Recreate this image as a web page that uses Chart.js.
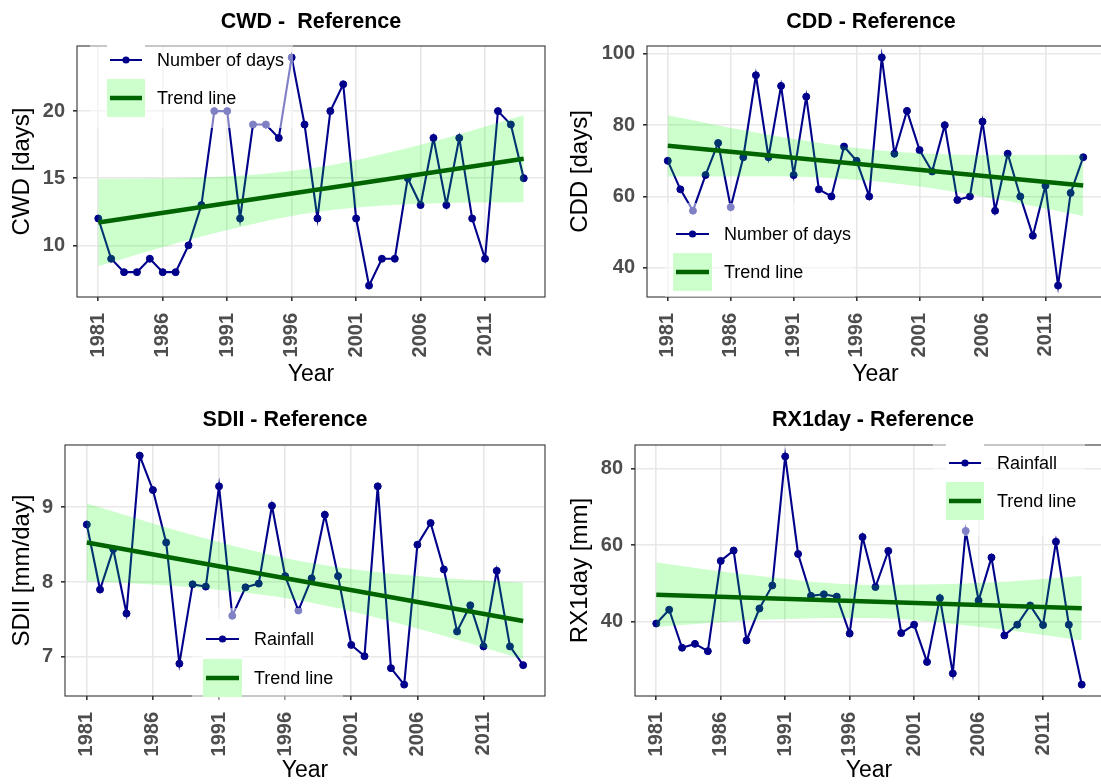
<!DOCTYPE html>
<html>
<head>
<meta charset="utf-8">
<script src="https://cdn.jsdelivr.net/npm/chart.js@4.4.1/dist/chart.umd.min.js"></script>
<style>
  html, body { margin: 0; padding: 0; background: #ffffff; overflow: hidden; width: 1101px; height: 784px; }
  canvas { position: absolute; }
</style>
</head>
<body>
<canvas id="cwd"></canvas>
<canvas id="cdd"></canvas>
<canvas id="sdii"></canvas>
<canvas id="rx1day"></canvas>
<script>
// ---- data -------------------------------------------------------------
const years = [1981,1982,1983,1984,1985,1986,1987,1988,1989,1990,
               1991,1992,1993,1994,1995,1996,1997,1998,1999,2000,
               2001,2002,2003,2004,2005,2006,2007,2008,2009,2010,
               2011,2012,2013,2014];
const yearTicks = [1981, 1986, 1991, 1996, 2001, 2006, 2011];

// consecutive wet days
const cwdDays = [12,9,8,8,9,8,8,10,13,20, 20,12,19,19,18,24,19,12,20,22,
                 12,7,9,9,15,13,18,13,18,12, 9,20,19,15];
// consecutive dry days
const cddDays = [70,62,56,66,75,57,71,94,71,91, 66,88,62,60,74,70,60,99,72,84,
                 73,67,80,59,60,81,56,72,60,49, 63,35,61,71];
// simple daily intensity index (mm/day)
const sdiiRain = [8.77,7.90,8.44,7.58,9.69,9.23,8.53,6.91,7.97,7.94,
                  9.28,7.55,7.93,7.98,9.02,8.08,7.62,8.05,8.90,8.08,
                  7.16,7.01,9.28,6.85,6.63,8.50,8.79,8.17,7.34,7.69,
                  7.14,8.15,7.14,6.89];
// maximum 1-day rainfall (mm)
const rx1dayRain = [39.6,43.2,33.3,34.3,32.4,55.9,58.6,35.2,43.5,49.5,
                    83.1,57.7,46.8,47.2,46.6,37.0,62.1,49.1,58.5,37.1,
                    39.3,29.6,46.2,26.6,63.7,45.6,56.8,36.5,39.3,44.3,
                    39.2,60.9,39.3,23.7];

// linear trends (end points) and their confidence ribbons
const trendYears = [1981, 2014];
const cwdTrend    = [11.7, 16.45];
const cddTrend    = [74.2, 63.1];
const sdiiTrend   = [8.53, 7.48];
const rx1dayTrend = [47.1, 43.6];

const bandYears = [1981, 1989, 1997.5, 2006, 2014];
const cwdBandLow     = [8.45, 10.65, 12.42, 13.10, 13.20];
const cwdBandHigh    = [14.95, 15.05, 15.74, 17.50, 19.70];
const cddBandLow     = [65.6, 65.7, 64.25, 60.0, 54.5];
const cddBandHigh    = [82.8, 77.3, 73.05, 71.6, 71.7];
const sdiiBandLow    = [8.01, 7.93, 7.74, 7.38, 6.97];
const sdiiBandHigh   = [9.05, 8.63, 8.27, 8.08, 7.99];
const rx1dayBandLow  = [38.7, 40.55, 41.05, 38.75, 35.2];
const rx1dayBandHigh = [55.5, 51.95, 49.65, 50.15, 52.0];

// value-axis ticks and limits
const cwdTicks = [10, 15, 20],        cwdLimits = [6.15, 24.85];
const cddTicks = [40, 60, 80, 100],   cddLimits = [31.8, 102.2];
const sdiiTicks = [7, 8, 9],          sdiiLimits = [6.4775, 9.8325];
const rx1dayTicks = [40, 60, 80],     rx1dayLimits = [20.73, 86.07];
const yearLimits = [1979.35, 2015.65];

// ---- styling ----------------------------------------------------------
const FONT = '"Liberation Sans", Arial, Helvetica, sans-serif';
Chart.defaults.font.family = FONT;
const NAVY = '#00008B';
const DARKGREEN = '#006400';
const RIBBON = 'rgba(0,255,0,0.2)';
const GRID = '#E8E8E8';
const TICKTXT = '#4D4D4D';

const panels = [
  { id: 'cwd', left: 0, top: 0, width: 550, height: 392,
    title: 'CWD -  Reference', titleX: 311, titleY: 22,
    yTitle: 'CWD [days]', values: cwdDays, trend: cwdTrend,
    low: cwdBandLow, high: cwdBandHigh, ticks: cwdTicks, limits: cwdLimits,
    area: { left: 77, top: 46, right: 545, bottom: 297 },
    yTitlePad: 8, xTitlePad: 4,
    legend: { box: [90, 38, 203, 90], keyX: 107, keyW: 38, textX: 157,
              rows: [{ cy: 60, label: 'Number of days', kind: 'series' },
                     { cy: 98, label: 'Trend line', kind: 'trend' }] } },
  { id: 'cdd', left: 550, top: 0, width: 560, height: 392,
    title: 'CDD - Reference', titleX: 871, titleY: 22,
    yTitle: 'CDD [days]', values: cddDays, trend: cddTrend,
    low: cddBandLow, high: cddBandHigh, ticks: cddTicks, limits: cddLimits,
    area: { left: 647, top: 46, right: 1104, bottom: 297 },
    yTitlePad: 16, xTitlePad: 4,
    legend: { box: [665, 203, 190, 94], keyX: 673, keyW: 39, textX: 724,
              rows: [{ cy: 234, label: 'Number of days', kind: 'series' },
                     { cy: 272, label: 'Trend line', kind: 'trend' }] } },
  { id: 'sdii', left: 0, top: 392, width: 550, height: 392,
    title: 'SDII - Reference', titleX: 285, titleY: 420,
    yTitle: 'SDII [mm/day]', values: sdiiRain, trend: sdiiTrend,
    low: sdiiBandLow, high: sdiiBandHigh, ticks: sdiiTicks, limits: sdiiLimits,
    area: { left: 65, top: 445, right: 545, bottom: 696 },
    yTitlePad: 8, xTitlePad: 0,
    legend: { box: [192, 608, 151, 94], keyX: 203, keyW: 39, textX: 254,
              rows: [{ cy: 639, label: 'Rainfall', kind: 'series' },
                     { cy: 678, label: 'Trend line', kind: 'trend' }] } },
  { id: 'rx1day', left: 550, top: 392, width: 560, height: 392,
    title: 'RX1day - Reference', titleX: 873, titleY: 420,
    yTitle: 'RX1day [mm]', values: rx1dayRain, trend: rx1dayTrend,
    low: rx1dayBandLow, high: rx1dayBandHigh, ticks: rx1dayTicks, limits: rx1dayLimits,
    area: { left: 635, top: 445, right: 1103, bottom: 696 },
    yTitlePad: 16, xTitlePad: 0,
    legend: { box: [933, 436, 152, 100], keyX: 946, keyW: 38, textX: 997,
              rows: [{ cy: 463, label: 'Rainfall', kind: 'series' },
                     { cy: 501, label: 'Trend line', kind: 'trend' }] } }
];

// panel frame, title and inside legend
const decor = {
  id: 'decor',
  afterDatasetsDraw(chart, args, p) {
    const { ctx, chartArea: a } = chart;
    ctx.save();
    ctx.strokeStyle = '#333333';
    ctx.lineWidth = 1.1;
    ctx.strokeRect(a.left, a.top, a.right - a.left, a.bottom - a.top);
    ctx.restore();
  },
  afterDraw(chart, args, p) {
    const ctx = chart.ctx;
    const ox = p.left, oy = p.top;
    ctx.save();
    // title
    ctx.fillStyle = '#000000';
    ctx.font = 'bold 21.5px ' + FONT;
    ctx.textAlign = 'center';
    ctx.textBaseline = 'middle';
    ctx.fillText(p.title, p.titleX - ox, p.titleY - oy);

    // legend
    const L = p.legend;
    ctx.fillStyle = 'rgba(255,255,255,0.5)';
    ctx.fillRect(L.box[0] - ox, L.box[1] - oy, L.box[2], L.box[3]);
    const kh = 38;
    L.rows.forEach(r => {
      const kx = L.keyX - ox, ky = r.cy - oy - kh / 2;
      ctx.fillStyle = '#ffffff';
      ctx.fillRect(kx, ky, L.keyW, kh);
      if (r.kind === 'series') {
        ctx.strokeStyle = NAVY; ctx.lineWidth = 2;
        ctx.beginPath();
        ctx.moveTo(kx + 3, r.cy - oy); ctx.lineTo(kx + L.keyW - 3, r.cy - oy);
        ctx.stroke();
        ctx.fillStyle = NAVY;
        ctx.beginPath();
        ctx.arc(kx + L.keyW / 2, r.cy - oy, 3.6, 0, Math.PI * 2);
        ctx.fill();
      } else {
        ctx.fillStyle = RIBBON;
        ctx.fillRect(kx, ky, L.keyW, kh);
        ctx.strokeStyle = DARKGREEN; ctx.lineWidth = 4.5;
        ctx.beginPath();
        ctx.moveTo(kx + 3, r.cy - oy); ctx.lineTo(kx + L.keyW - 3, r.cy - oy);
        ctx.stroke();
      }
      ctx.fillStyle = '#000000';
      ctx.font = '18px ' + FONT;
      ctx.textAlign = 'left';
      ctx.textBaseline = 'middle';
      ctx.fillText(r.label, L.textX - ox, r.cy - oy + 1);
    });
    ctx.restore();
  }
};

panels.forEach(p => {
  const cv = document.getElementById(p.id);
  cv.width = p.width; cv.height = p.height;
  cv.style.left = p.left + 'px'; cv.style.top = p.top + 'px';

  const pts = (xs, ys) => xs.map((x, i) => ({ x: x, y: ys[i] }));
  const yAxisW = p.area.left - p.left;
  const xAxisH = p.top + p.height - p.area.bottom;

  new Chart(cv, {
    type: 'line',
    data: {
      datasets: [
        { label: 'Trend line', data: pts(trendYears, p.trend),
          borderColor: DARKGREEN, borderWidth: 4.5, pointRadius: 0, fill: false },
        { label: 'upper', data: pts(bandYears, p.high),
          borderColor: 'rgba(0,0,0,0)', borderWidth: 0, pointRadius: 0,
          cubicInterpolationMode: 'monotone', fill: '+1', backgroundColor: RIBBON },
        { label: 'lower', data: pts(bandYears, p.low),
          borderColor: 'rgba(0,0,0,0)', borderWidth: 0, pointRadius: 0,
          cubicInterpolationMode: 'monotone', fill: false },
        { label: 'values', data: pts(years, p.values),
          borderColor: NAVY, borderWidth: 2.1, fill: false,
          pointRadius: 3.5, pointBackgroundColor: NAVY, pointBorderColor: NAVY,
          pointBorderWidth: 1 }
      ]
    },
    options: {
      responsive: false,
      animation: false,
      events: [],
      layout: { padding: { left: 0, bottom: 0,
                           top: p.area.top - p.top,
                           right: p.left + p.width - p.area.right } },
      plugins: { legend: { display: false }, tooltip: { enabled: false },
                 decor: p },
      scales: {
        x: {
          type: 'linear', min: yearLimits[0], max: yearLimits[1],
          afterBuildTicks: s => { s.ticks = yearTicks.map(v => ({ value: v })); },
          afterFit: s => { s.height = xAxisH; },
          grid: { color: GRID, lineWidth: 1.6, tickColor: '#333333', tickLength: 4 },
          border: { display: false },
          ticks: { autoSkip: false, minRotation: 90, maxRotation: 90, padding: 12,
                   color: TICKTXT, font: { size: 20, weight: 'bold' },
                   callback: v => String(v) },
          title: { display: true, text: 'Year', color: '#000000',
                   font: { size: 23 }, padding: { top: 0, bottom: p.xTitlePad } }
        },
        y: {
          type: 'linear', min: p.limits[0], max: p.limits[1],
          afterBuildTicks: s => { s.ticks = p.ticks.map(v => ({ value: v })); },
          afterFit: s => { s.width = yAxisW; },
          grid: { color: GRID, lineWidth: 1.6, tickColor: '#333333', tickLength: 4 },
          border: { display: false },
          ticks: { padding: 8, color: TICKTXT, font: { size: 20, weight: 'bold' },
                   callback: v => String(v) },
          title: { display: true, text: p.yTitle, color: '#000000',
                   font: { size: 24 }, padding: { top: p.yTitlePad, bottom: 0 } }
        }
      }
    },
    plugins: [decor]
  });
});
</script>
</body>
</html>
